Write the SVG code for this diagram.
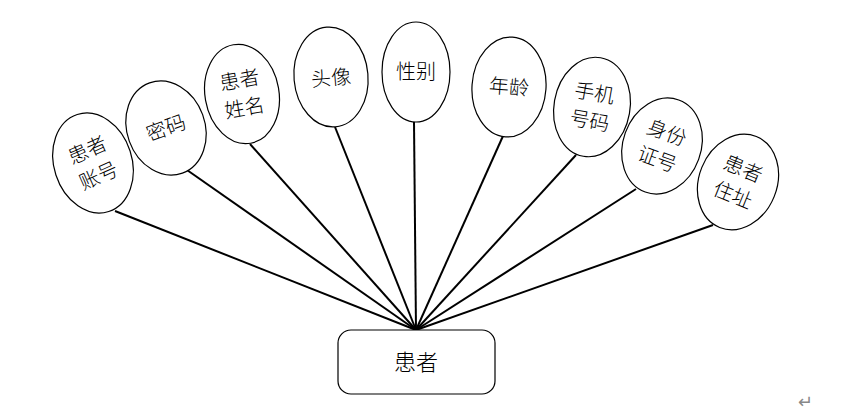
<svg xmlns="http://www.w3.org/2000/svg" width="858" height="413" viewBox="0 0 858 413">
<style>
.attr ellipse{fill:#fff;stroke:#000;stroke-width:1.2}
text{font-family:"Noto Sans CJK SC","Noto Sans",sans-serif;font-size:20px;font-weight:300;fill:#000;text-anchor:middle}
#links line{stroke:#000;stroke-width:2}
</style>
<rect width="858" height="413" fill="#fff"/>
<g id="links">
<line x1="416" y1="330" x2="115" y2="211"/>
<line x1="416" y1="330" x2="187" y2="170"/>
<line x1="416" y1="330" x2="250" y2="144"/>
<line x1="416" y1="330" x2="335" y2="127"/>
<line x1="416" y1="330" x2="414" y2="122"/>
<line x1="416" y1="330" x2="503" y2="136"/>
<line x1="416" y1="330" x2="576" y2="155"/>
<line x1="416" y1="330" x2="636" y2="189"/>
<line x1="416" y1="330" x2="713" y2="225"/>
</g>
<g id="n1" class="attr" transform="translate(93,163) rotate(-18)"><ellipse rx="39" ry="51"/><text y="-7" transform="rotate(-6)">患者</text><text y="21" transform="rotate(-6)">账号</text></g>
<g id="n2" class="attr" transform="translate(166,128) rotate(-20)"><ellipse rx="39" ry="48"/><text y="7">密码</text></g>
<g id="n3" class="attr" transform="translate(242,94) rotate(-10)"><ellipse rx="37" ry="50"/><text y="-7">患者</text><text y="21">姓名</text></g>
<g id="n4" class="attr" transform="translate(331,77) rotate(-5)"><ellipse rx="37" ry="50"/><text y="8">头像</text></g>
<g id="n5" class="attr" transform="translate(416,72)"><ellipse rx="34" ry="50"/><text y="7">性别</text></g>
<g id="n6" class="attr" transform="translate(509,87) rotate(4)"><ellipse rx="37" ry="50"/><text y="7">年龄</text></g>
<g id="n7" class="attr" transform="translate(592,107) rotate(10)"><ellipse rx="38" ry="50"/><text y="-7">手机</text><text y="21">号码</text></g>
<g id="n8" class="attr" transform="translate(662,146) rotate(20)"><ellipse rx="39" ry="49"/><text y="-7">身份</text><text y="21">证号</text></g>
<g id="n9" class="attr" transform="translate(738,182) rotate(22)"><ellipse rx="39" ry="49"/><text y="-7">患者</text><text y="21">住址</text></g>
<g id="patient"><rect x="338" y="330" width="157" height="64" rx="13" fill="#fff" stroke="#000" stroke-width="1.2"/><text x="416" y="370" style="font-size:22px">患者</text></g>
<text x="805" y="408" style="font-size:18px;fill:#888">↵</text>
</svg>
